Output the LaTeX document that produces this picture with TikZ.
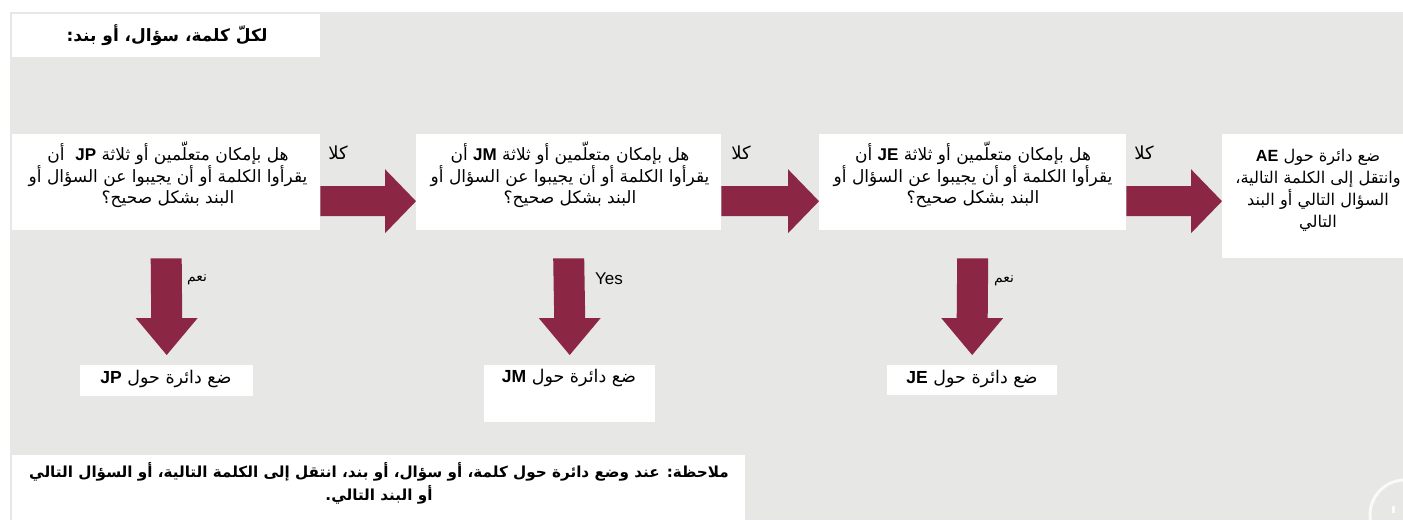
\documentclass[tikz,border=0pt]{standalone}
\usepackage{fontspec}
\setmainfont{Liberation Sans}
\newfontfamily\arabicfont[Script=Arabic]{DejaVu Sans}
\TeXXeTstate=1
\usetikzlibrary{calc}
\definecolor{bggray}{RGB}{231,231,229}
\definecolor{arrowred}{RGB}{139,38,69}
\newcommand\arr[1]{{\arabicfont\beginR #1\endR}}
\newcommand\lat[1]{\beginL{\normalfont\bfseries #1}\endL}
% right arrow: #1 start (shaft), #2 tip
\newcommand\rightarrowshape[2]{%
  \fill[arrowred] ($(#1)+(0,-15)$) -- ($(#2)+(-31,-15)$) -- ($(#2)+(-31,-32)$) -- (#2)
    -- ($(#2)+(-31,32)$) -- ($(#2)+(-31,15)$) -- ($(#1)+(0,15)$) -- cycle;}
% down arrow: #1 start, #2 tip  (y axis points down)
\newcommand\downarrowshape[2]{%
  \fill[arrowred] ($(#1)+(-15.5,0)$) -- ($(#2)+(-15.5,-37)$) -- ($(#2)+(-31,-37)$) -- (#2)
    -- ($(#2)+(31,-37)$) -- ($(#2)+(15.5,-37)$) -- ($(#1)+(15.5,0)$) -- cycle;}
\begin{document}
\begin{tikzpicture}[x=1pt,y=-1pt,
  box/.style={fill=white,draw=none,inner sep=0pt,anchor=north west},
  txt/.style={inner sep=0pt,align=center,font=\fontsize{17}{21.5}\selectfont},
  lasttxt/.style={inner sep=0pt,align=center,font=\fontsize{16.2}{22}\selectfont},
  rtxt/.style={inner sep=0pt,align=center,font=\fontsize{17.5}{21}\selectfont},
  bold/.style={inner sep=0pt,align=center,font=\fontsize{17}{23}\selectfont\bfseries},
  notefont/.style={inner sep=0pt,align=center,font=\fontsize{15.2}{23}\selectfont\bfseries},
  lbl/.style={inner sep=0pt,font=\fontsize{18}{20}\selectfont},
  small/.style={inner sep=0pt,font=\fontsize{14}{16}\selectfont}]
\clip (0,0) rectangle (1403,520);
\fill[white] (0,0) rectangle (1403,520);
\fill[bggray] (10,12) rectangle (1403,520);

% boxes
\node[box,minimum width=308pt,minimum height=43pt] (title) at (12,14) {};
\node[box,minimum width=308pt,minimum height=96pt] (b1) at (12,134) {};
\node[box,minimum width=305pt,minimum height=96pt] (b2) at (416,134) {};
\node[box,minimum width=307pt,minimum height=96pt] (b3) at (819,134) {};
\node[box,minimum width=200pt,minimum height=124pt] (b4) at (1222,134) {};
\node[box,minimum width=173pt,minimum height=31pt] (r1) at (80,365) {};
\node[box,minimum width=171pt,minimum height=57pt] (r2) at (484,365) {};
\node[box,minimum width=170pt,minimum height=30pt] (r3) at (887,365) {};
\node[box,minimum width=733pt,minimum height=70pt] (note) at (12,455) {};

% texts
\node[bold] (titletxt) at (167,35) {\arr{لكلّ كلمة، سؤال، أو بند:}};
\node[txt] (t1) at (168,175) {\arr{هل بإمكان متعلّمين أو ثلاثة \lat{JP}\ \ أن}\\
  \arr{يقرأوا الكلمة أو أن يجيبوا عن السؤال أو}\\ \arr{البند بشكل صحيح؟}};
\node[txt] (t2) at (570,175) {\arr{هل بإمكان متعلّمين أو ثلاثة \lat{JM} أن}\\
  \arr{يقرأوا الكلمة أو أن يجيبوا عن السؤال أو}\\ \arr{البند بشكل صحيح؟}};
\node[txt] (t3) at (973,175) {\arr{هل بإمكان متعلّمين أو ثلاثة \lat{JE} أن}\\
  \arr{يقرأوا الكلمة أو أن يجيبوا عن السؤال أو}\\ \arr{البند بشكل صحيح؟}};
\node[lasttxt] (t4) at (1318,190) {\arr{ضع دائرة حول \lat{AE}}\\
  \arr{وانتقل إلى الكلمة التالية،}\\ \arr{السؤال التالي أو البند}\\ \arr{التالي}};
\node[rtxt] (rt1) at (166,379) {\arr{ضع دائرة حول \lat{JP}}};
\node[rtxt] (rt2) at (569,378) {\arr{ضع دائرة حول \lat{JM}}};
\node[rtxt] (rt3) at (972,379) {\arr{ضع دائرة حول \lat{JE}}};
\node[notefont] (notetxt) at (379,483) {\arr{ملاحظة: عند وضع دائرة حول كلمة، أو سؤال، أو بند، انتقل إلى الكلمة التالية، أو السؤال التالي}\\
  \arr{أو البند التالي.}};

% labels
\node[lbl] (no1) at (338,153) {\arr{كلا}};
\node[lbl] (no2) at (741,153) {\arr{كلا}};
\node[lbl] (no3) at (1144,153) {\arr{كلا}};
\node[small] (yes1) at (197,280) {\arr{نعم}};
\node[inner sep=0pt,font=\fontsize{17}{19}\selectfont] (yes2) at (609,279) {Yes};
\node[small] (yes3) at (1004,281) {\arr{نعم}};

% horizontal arrows
\path ([yshift=-19pt]b1.east) coordinate (h1s) ([yshift=-19pt]b2.west) coordinate (h1e);
\path ([yshift=-19pt]b2.east) coordinate (h2s) ([yshift=-19pt]b3.west) coordinate (h2e);
\path ([yshift=-19pt]b3.east) coordinate (h3s) (b4.west|-h3s) coordinate (h3e);
\rightarrowshape{h1s}{h1e}
\rightarrowshape{h2s}{h2e}
\rightarrowshape{h3s}{h3e}

% vertical arrows
\path ([yshift=-28pt]b1.south) coordinate (v1s) ([yshift=10pt]r1.north) coordinate (v1e);
\path ([yshift=-28pt]b2.south) coordinate (v2s) ([yshift=10pt]r2.north) coordinate (v2e);
\path ([yshift=-28pt]b3.south) coordinate (v3s) ([yshift=10pt]r3.north) coordinate (v3e);
\downarrowshape{v1s}{v1e}
\downarrowshape{v2s}{v2e}
\downarrowshape{v3s}{v3e}

% faint player overlay
\draw[white,line width=3pt,opacity=0.8] (1405,515) circle (35);
\draw[white,line width=3pt,opacity=0.8] (1393,506) -- (1393,513);
\end{tikzpicture}
\end{document}
